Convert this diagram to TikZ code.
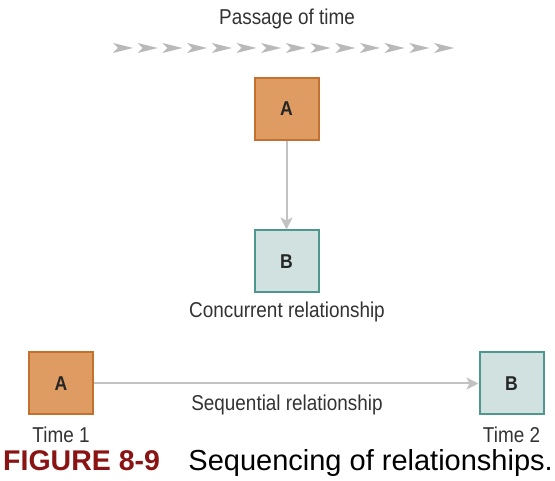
\documentclass[tikz,border=0pt]{standalone}
\usepackage{fontspec}
\usetikzlibrary{arrows.meta}
\setmainfont{Liberation Sans}
\newfontfamily\condfont[FakeStretch=0.88]{Liberation Sans}
\begin{document}
\begin{tikzpicture}[x=1pt,y=-1pt,
  boxA/.style={draw=orangeedge,fill=orangefill,line width=2pt,minimum width=64pt,minimum height=62pt,inner sep=0pt,
    font=\condfont\bfseries\fontsize{20}{20}\selectfont,text=black!85},
  boxB/.style={draw=tealedge,fill=tealfill,line width=2pt,minimum width=64pt,minimum height=62pt,inner sep=0pt,
    font=\condfont\bfseries\fontsize{20}{20}\selectfont,text=black!85},
  lbl/.style={font=\condfont\fontsize{21.5}{21.5}\selectfont,text=textgray,inner sep=0pt},
  link/.style={draw=linkgray,line width=2pt,-{Stealth[length=12pt,width=12pt,inset=3pt]}}]
\definecolor{orangefill}{HTML}{DE9B62}
\definecolor{orangeedge}{HTML}{C4712F}
\definecolor{tealfill}{HTML}{D0E1E0}
\definecolor{tealedge}{HTML}{4E9690}
\definecolor{linkgray}{HTML}{C2C2C2}
\definecolor{chevgray}{HTML}{B9B9B9}
\definecolor{textgray}{HTML}{333333}
\definecolor{capred}{HTML}{8A1414}
\useasboundingbox[fill=white] (0,0) rectangle (555,481);

% heading and the row of chevrons
\node[lbl] (passage) at (287,19) {Passage of time};
\foreach \i in {0,...,13}{
  \fill[chevgray] ({113+24.7*\i},43) -- ({133+24.7*\i},48) -- ({113+24.7*\i},53) -- ({118+24.7*\i},48) -- cycle;
}

% concurrent relationship
\node[boxA] (a1) at (286.5,109) {A};
\node[boxB] (b1) at (286.5,261.5) {B};
\draw[link] (a1.south) -- (b1.north);
\node[lbl] (conc) at (287,312) {Concurrent relationship};

% sequential relationship
\node[boxA] (a2) at (61,383.5) {A};
\node[boxB] (b2) at (511.5,383.5) {B};
\draw[link] (a2.east) -- (b2.west);
\node[lbl] (seq) at (287,405) {Sequential relationship};
\node[lbl] (t1) at (61,435) {Time 1};
\node[lbl] (t2) at (511.5,435) {Time 2};

% caption
\node[anchor=base west,inner sep=0pt,font=\bfseries\fontsize{28.5}{28.5}\selectfont,text=capred] (fig) at (3,471) {FIGURE 8-9};
\node[anchor=base east,inner sep=0pt,font=\fontsize{29}{29}\selectfont,text=black] (cap) at (553,471) {Sequencing of relationships.};
\end{tikzpicture}
\end{document}
